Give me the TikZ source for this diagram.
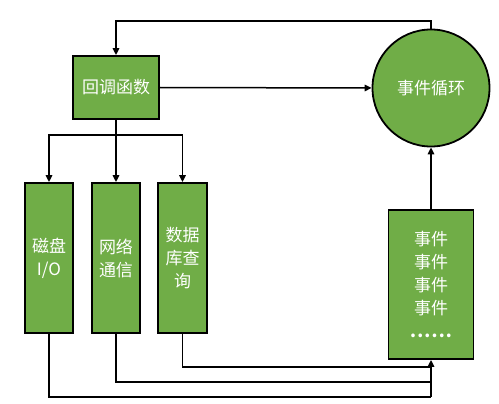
\documentclass[tikz,border=0pt]{standalone}
\usepackage{fontspec}
\setmainfont{Noto Sans CJK SC}
\usetikzlibrary{arrows.meta}
\definecolor{boxgreen}{RGB}{112,173,71}
\tikzset{
  gbox/.style={draw=black, line width=1.8pt, fill=boxgreen, text=white, align=center,
    inner sep=0pt, font=\fontsize{17}{23}\selectfont},
  gcirc/.style={gbox, circle},
  conn/.style={line width=1.5pt, draw=black},
  arr/.style={conn, -{Triangle[length=7pt,width=6.5pt]}}
}
\newcommand{\qdots}{.\kern1.2pt.\kern1.2pt.\kern1.2pt.\kern1.2pt.\kern1.2pt.}
\begin{document}
\begin{tikzpicture}[x=1pt,y=-1pt]
\useasboundingbox (0,0) rectangle (499,404);
\node[gbox, minimum width=86pt, minimum height=63pt] (cb) at (116,87.5) {回调函数};
\node[gbox, minimum width=48pt, minimum height=150pt] (b1) at (49,258) {磁盘\\I/O};
\node[gbox, minimum width=48pt, minimum height=150pt] (b2) at (116,258) {网络\\通信};
\node[gbox, minimum width=49pt, minimum height=150pt] (b3) at (182.5,258) {数据\\库查\\询};
\node[gcirc, minimum size=117pt] (loop) at (431,88) {事件循环};
\node[gbox, minimum width=85pt, minimum height=149pt] (q) at (431,284.5) {事件\\事件\\事件\\事件\\{\bfseries\qdots}};
\coordinate (t) at (116,21);
\coordinate (br) at (116,135);
\coordinate (j3) at (431,367);
\coordinate (j2) at (431,382);
\coordinate (j1) at (431,397);
\draw[arr] (loop.north) |- (t) -- (cb.north);
\draw[arr] (cb.east) -- (loop.west);
\draw[arr] (cb.south) -- (b2.north);
\draw[arr] (br) -| (b1.north);
\draw[arr] (br) -| (b3.north);
\draw[conn] (b1.south) |- (j1);
\draw[conn] (b2.south) |- (j2);
\draw[conn] (b3.south) |- (j3);
\draw[arr] (j1) -- (q.south);
\draw[arr] (q.north) -- (loop.south);
\end{tikzpicture}
\end{document}
